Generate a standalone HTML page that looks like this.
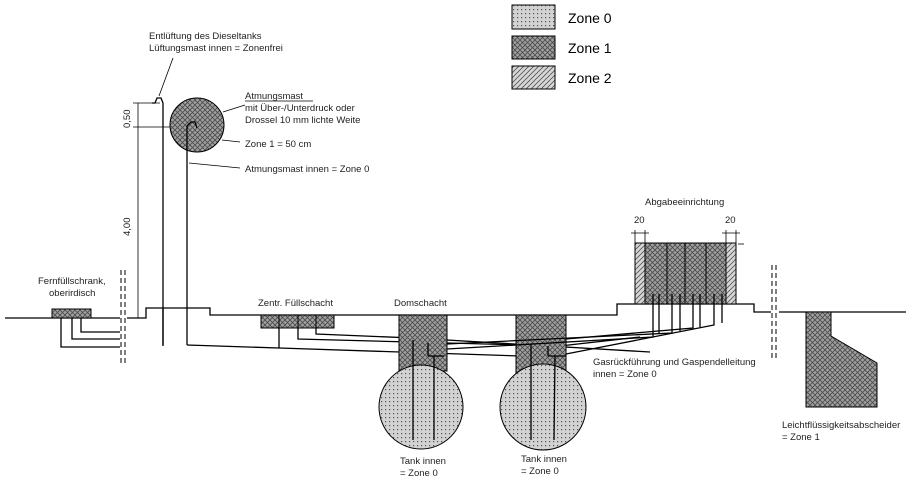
<!DOCTYPE html>
<html><head><meta charset="utf-8"><style>
html,body{margin:0;padding:0;background:#fff;}
svg{display:block;font-family:"Liberation Sans",sans-serif;}
</style></head><body>
<svg width="914" height="486" viewBox="0 0 914 486" xmlns="http://www.w3.org/2000/svg">
<defs>
<pattern id="z0" width="4" height="4" patternUnits="userSpaceOnUse">
<rect width="4" height="4" fill="#d2d2d2"/><rect x="1" y="1" width="1.2" height="1.2" fill="#555"/>
</pattern>
<pattern id="z1" width="5" height="5" patternUnits="userSpaceOnUse">
<rect width="5" height="5" fill="#a0a0a0"/><path d="M0 0L5 5M5 0L0 5" stroke="#4a4a4a" stroke-width="0.8"/>
</pattern>
<pattern id="z2" width="5" height="5" patternUnits="userSpaceOnUse">
<rect width="5" height="5" fill="#d6d6d6"/><path d="M-1 6L6 -1M-1 1L1 -1M4 6L6 4" stroke="#555" stroke-width="0.8"/>
</pattern>
</defs>
<g stroke="#000" stroke-width="1">
<rect x="512" y="5" width="43" height="24" fill="url(#z0)"/>
<rect x="512" y="36" width="43" height="23" fill="url(#z1)"/>
<rect x="512" y="66" width="43" height="23" fill="url(#z2)"/>
</g>
<g font-size="14" fill="#000">
<text x="568" y="23">Zone 0</text><text x="568" y="53">Zone 1</text><text x="568" y="83">Zone 2</text>
</g>
<g stroke="#000" fill="none" stroke-width="1.3">
<polyline points="5,318 120,318"/>
<polyline points="127,318 146,318 146,308 210,308 210,315 617,315 617,304 754,304 754,312 771,312"/>
<polyline points="779,312 906,312"/>
<g stroke-dasharray="5,3" stroke-width="1"><line x1="121" y1="270" x2="121" y2="366"/><line x1="125" y1="270" x2="125" y2="366"/>
<line x1="772" y1="265" x2="772" y2="358"/><line x1="776" y1="265" x2="776" y2="358"/></g>
<polyline points="61,318 61,347 120,347"/><polyline points="72,318 72,339 120,339"/><polyline points="81,318 81,332 120,332"/>
<polyline points="163,346 163,103 161,98 157,98 155,103 152,103"/>
<line x1="163" y1="308" x2="163" y2="345"/>
<g stroke-width="0.8"><line x1="138" y1="103" x2="138" y2="318"/><line x1="133" y1="103" x2="160" y2="103"/><line x1="133" y1="127" x2="200" y2="127"/></g>
<!-- pipes -->
<polyline points="187,345 279,348 520,356"/>
<line x1="279" y1="328" x2="279" y2="348"/>
<polyline points="298,328 298,339 560,346 640,337"/>
<polyline points="316,328 316,334 413,338 413,440"/>
<polyline points="413,338 650,352"/>
</g>
<circle cx="197" cy="125" r="27" fill="url(#z1)" stroke="#000"/>
<polyline points="187,345 187,126 191,122 195,122 197,128" fill="none" stroke="#000" stroke-width="1.3"/>
<g stroke="#000" stroke-width="1">
<rect x="52" y="309" width="39" height="9" fill="url(#z1)"/>
<rect x="261" y="315" width="73" height="13" fill="url(#z1)"/>
<line x1="279" y1="315" x2="279" y2="328"/><line x1="298" y1="315" x2="298" y2="328"/><line x1="316" y1="315" x2="316" y2="328"/>
<rect x="399" y="315" width="48" height="56" fill="url(#z1)"/>
<rect x="516" y="315" width="50" height="58" fill="url(#z1)"/>
<circle cx="421" cy="407" r="42" fill="url(#z0)"/>
<circle cx="543" cy="407" r="43" fill="url(#z0)"/>
<rect x="635" y="243" width="101" height="61" fill="url(#z1)"/>
<rect x="635" y="243" width="10" height="61" fill="url(#z2)"/>
<rect x="726" y="243" width="10" height="61" fill="url(#z2)"/>
<line x1="667" y1="243" x2="667" y2="304"/><line x1="685" y1="243" x2="685" y2="304"/><line x1="706" y1="243" x2="706" y2="304"/>
<polygon points="806,312 831,312 831,336 877,363 877,407 806,407" fill="url(#z1)"/>
</g>
<g stroke="#000" fill="none" stroke-width="1.3">
<polyline points="413,340 413,440"/>
<polyline points="434,356 434,440"/><line x1="428" y1="343" x2="428" y2="356"/><line x1="428" y1="356" x2="444" y2="356"/>
<polyline points="531,344 531,440"/><polyline points="555,356 554,440"/><line x1="548" y1="346" x2="548" y2="356"/><line x1="548" y1="356" x2="566" y2="356"/>
<polyline points="447,349 653,337 653,294"/>
<line x1="659" y1="294" x2="659" y2="334"/>
<polyline points="447,344 672,333 672,294"/><line x1="680" y1="294" x2="680" y2="331"/>
<polyline points="566,339 693,328 693,294"/><line x1="700" y1="294" x2="700" y2="327"/>
<polyline points="566,354 714,325 714,294"/><line x1="722" y1="294" x2="722" y2="323"/>
<g stroke-width="0.8"><line x1="635" y1="230" x2="635" y2="243"/><line x1="645" y1="230" x2="645" y2="243"/><line x1="631" y1="233" x2="649" y2="233"/>
<line x1="726" y1="230" x2="726" y2="243"/><line x1="736" y1="230" x2="736" y2="243"/><line x1="722" y1="233" x2="740" y2="233"/><line x1="738" y1="244" x2="744" y2="244"/></g>
<g stroke-width="0.8"><line x1="173" y1="58" x2="159" y2="96"/><line x1="223" y1="112" x2="245" y2="105"/><line x1="222" y1="140" x2="240" y2="142"/><line x1="189" y1="163" x2="240" y2="168"/></g>
</g>
<g font-size="9.5" fill="#222">
<text x="149" y="39">Entlüftung des Dieseltanks</text>
<text x="149" y="51">Lüftungsmast innen = Zonenfrei</text>
<text x="245" y="99">Atmungsmast</text><line x1="245" y1="101" x2="313" y2="101" stroke="#000" stroke-width="0.7"/>
<text x="245" y="111">mit Über-/Unterdruck oder</text>
<text x="245" y="123">Drossel 10 mm lichte Weite</text>
<text x="245" y="147">Zone 1 = 50 cm</text>
<text x="245" y="172">Atmungsmast innen = Zone 0</text>
<text x="130" y="128" transform="rotate(-90 130 128)">0,50</text>
<text x="130" y="236" transform="rotate(-90 130 236)">4,00</text>
<text x="38" y="284">Fernfüllschrank,</text>
<text x="49" y="296">oberirdisch</text>
<text x="258" y="306">Zentr. Füllschacht</text>
<text x="394" y="306">Domschacht</text>
<text x="645" y="205">Abgabeeinrichtung</text>
<text x="634" y="223">20</text><text x="725" y="223">20</text>
<text x="593" y="365">Gasrückführung und Gaspendelleitung</text>
<text x="593" y="377">innen = Zone 0</text>
<text x="400" y="464">Tank innen</text><text x="400" y="476">= Zone 0</text>
<text x="521" y="462">Tank innen</text><text x="521" y="474">= Zone 0</text>
<text x="782" y="428">Leichtflüssigkeitsabscheider</text>
<text x="782" y="440">= Zone 1</text>
</g>
</svg>
</body></html>
